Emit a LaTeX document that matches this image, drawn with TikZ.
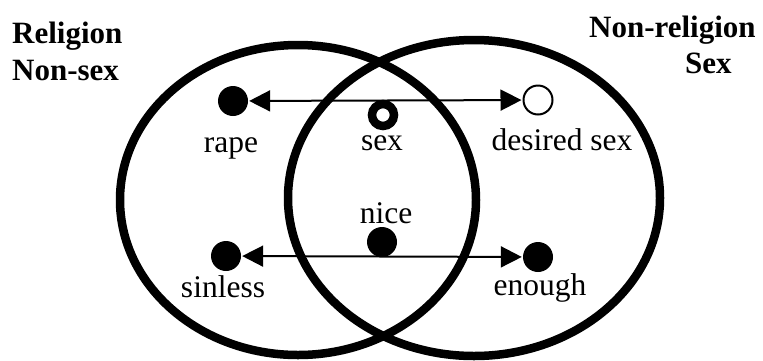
\documentclass[tikz,border=0pt]{standalone}
\usepackage{fontspec}
\setmainfont{Liberation Serif}
\usetikzlibrary{arrows.meta}
\begin{document}
\begin{tikzpicture}[x=1pt,y=-1pt,
  ring/.style={draw=black,line width=8.5pt},
  dot/.style={circle,fill=black,minimum size=30pt,inner sep=0pt},
  hollow/.style={circle,draw=black,fill=white,line width=2pt,minimum size=29pt,inner sep=0pt},
  donut/.style={circle,draw=black,line width=8.5pt,minimum size=22pt,inner sep=0pt},
  lbl/.style={anchor=base,inner sep=0pt,font=\fontsize{31.5}{38}\selectfont},
  head/.style={anchor=base west,inner sep=0pt,font=\fontsize{31}{38}\selectfont\bfseries},
  link/.style={line width=2pt,{Triangle[length=21pt,width=21pt]}-{Triangle[length=21pt,width=21pt]},shorten <=1pt,shorten >=1pt}]
\useasboundingbox (0,0) rectangle (763,360);
% sets
\draw[ring] (298,200) ellipse [x radius=178, y radius=155];
\draw[ring] (474,198) ellipse [x radius=186, y radius=158];
% headings
\node[head] (rel) at (12,43) {Religion};
\node[head] (nsx) at (12,80) {Non-sex};
\node[head] (nrel) at (589,37) {Non-religion};
\node[head] (sx) at (685,73) {Sex};
% points
\node[dot] (rape) at (233,101) {};
\node[hollow] (desired) at (538,100) {};
\node[donut] (sexring) at (383,115) {};
\node[dot] (nice) at (382,242) {};
\node[dot] (sinless) at (226,256) {};
\node[dot] (enough) at (538,257) {};
% labels
\node[lbl] (lrape) at (231,152) {rape};
\node[lbl] (lsex) at (382,150) {sex};
\node[lbl] (ldes) at (562,150) {desired sex};
\node[lbl] (lnice) at (386,223) {nice};
\node[lbl] (lsin) at (223,297) {sinless};
\node[lbl] (lenough) at (540,295) {enough};
% arrows
\draw[link] (rape) -- (desired);
\draw[link] (sinless) -- (enough);
\end{tikzpicture}
\end{document}
